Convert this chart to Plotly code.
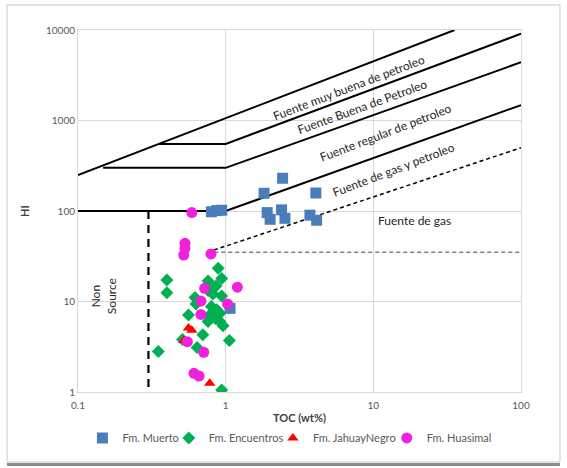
import numpy as np
import plotly.graph_objects as go

# ---- data ----
muerto_toc = [0.80, 0.87, 0.94, 1.82, 2.43, 4.08, 1.91, 2.00, 2.39, 2.52, 3.72, 4.13, 1.07]
muerto_hi = [98, 101, 102, 157, 230, 158, 96, 81, 103, 83, 90, 79, 8.4]

encuentros_toc = [0.89, 0.40, 0.76, 0.94, 0.86, 0.40, 0.76, 0.82, 0.94, 0.62, 0.63, 0.80, 0.87,
                  0.915, 0.78, 0.85, 0.915, 0.96, 0.56, 0.76, 0.70, 1.06, 0.51, 0.64, 0.35, 0.94]
encuentros_hi = [23.3, 17.3, 16.8, 18.0, 14.8, 12.5, 13.2, 12.1, 11.5, 11.1, 9.4, 8.8, 8.1,
                 7.4, 7.1, 6.5, 6.0, 5.4, 7.1, 6.0, 4.3, 3.7, 3.8, 3.1, 2.8, 1.05]

jahuay_toc = [0.56, 0.59, 0.52, 0.78]
jahuay_hi = [5.1, 4.8, 3.7, 1.25]

huasimal_toc = [0.59, 0.53, 0.53, 0.52, 0.795, 0.72, 1.2, 0.68, 1.03, 0.68, 0.55, 0.71, 0.61, 0.66]
huasimal_hi = [96, 44, 38.7, 32.6, 33.5, 14, 14.4, 10.1, 9.4, 7.2, 3.6, 2.75, 1.61, 1.5]

# boundary lines of the source-rock classification
top_x, top_y = [0.1, 35.5], [250, 10000]
vgood_x, vgood_y = [0.35, 1, 100], [550, 550, 9100]
good_x, good_y = [0.148, 1, 100], [300, 300, 4400]
fair_x, fair_y = [0.1, 1, 100], [100, 100, 1480]
gasoil_x, gasoil_y = [0.75, 100], [35, 500]
gas_x, gas_y = [0.75, 100], [35, 35]
nonsrc_x, nonsrc_y = [0.3, 0.3], [100, 1]

labels = ["Fuente muy buena de petroleo", "Fuente Buena de Petroleo",
          "Fuente regular de petroleo", "Fuente de gas y petroleo"]
label_toc = [6.84, 8.5, 12.2, 13.8]
label_hi = [2345, 1420, 728, 284]
label_angle = [-21, -20, -21, -21]

series_names = ["Fm. Muerto", "Fm. Encuentros", "Fm. JahuayNegro", "Fm. Huasimal"]

FONT = "Lato, 'Open Sans', sans-serif"

fig = go.Figure()

def line(x, y, color="black", width=2, dash="solid"):
    fig.add_trace(go.Scatter(x=x, y=y, mode="lines", showlegend=False, hoverinfo="skip",
                             line=dict(color=color, width=width, dash=dash)))

line(top_x, top_y)
line(vgood_x, vgood_y)
line(good_x, good_y)
line(fair_x, fair_y)
line(gasoil_x, gasoil_y, width=1.5, dash="4px,3px")
line(gas_x, gas_y, color="#7f7f7f", width=1.5, dash="4px,3px")
line(nonsrc_x, nonsrc_y, width=2.2, dash="8px,6px")

fig.add_trace(go.Scatter(x=muerto_toc, y=muerto_hi, mode="markers", name=series_names[0],
                         legend="legend",
                         marker=dict(symbol="square", size=11, color="#4a7ebb")))
fig.add_trace(go.Scatter(x=encuentros_toc, y=encuentros_hi, mode="markers", name=series_names[1],
                         legend="legend2",
                         marker=dict(symbol="diamond", size=10, color="#00b050")))
fig.add_trace(go.Scatter(x=jahuay_toc, y=jahuay_hi, mode="markers", name=series_names[2],
                         legend="legend3",
                         marker=dict(symbol="triangle-up", size=10, color="#ff0000")))
fig.add_trace(go.Scatter(x=huasimal_toc, y=huasimal_hi, mode="markers", name=series_names[3],
                         legend="legend4",
                         marker=dict(symbol="circle", size=11, color="#f020dc")))

annotations = []
for t, xv, yv, ang in zip(labels, label_toc, label_hi, label_angle):
    annotations.append(dict(x=np.log10(xv), y=np.log10(yv), xref="x", yref="y", text=t,
                            showarrow=False, textangle=ang,
                            font=dict(family=FONT, size=12, color="#262626")))
annotations.append(dict(x=np.log10(19.0), y=np.log10(77.6), xref="x", yref="y", text="Fuente de gas",
                        showarrow=False, font=dict(family=FONT, size=12, color="#262626")))
annotations.append(dict(x=np.log10(0.148), y=np.log10(11.5), xref="x", yref="y", text="Non<br>Source",
                        showarrow=False, textangle=-90,
                        font=dict(family=FONT, size=12, color="#262626")))

shapes = [
    dict(type="rect", xref="paper", yref="paper", x0=-0.1603, x1=1.088, y0=-0.1934, y1=1.069,
         line=dict(color="#c8c8c8", width=1), layer="below"),
    dict(type="line", xref="paper", yref="paper", x0=-0.1603, x1=1.088, y0=-0.2, y1=-0.2,
         line=dict(color="#8c8c8c", width=3), layer="below"),
]

def leg(xp):
    return dict(orientation="h", x=xp, xanchor="left", y=-0.127, yanchor="middle",
                font=dict(family=FONT, size=11, color="#595959"),
                itemwidth=30, bgcolor="rgba(0,0,0,0)")

fig.update_layout(
    width=567, height=468,
    margin=dict(l=78, r=46, t=30, b=76, autoexpand=False),
    paper_bgcolor="white", plot_bgcolor="white",
    font=dict(family=FONT, size=10, color="#595959"),
    showlegend=True,
    legend=leg(0.010), legend2=leg(0.205), legend3=leg(0.440), legend4=leg(0.697),
    annotations=annotations,
    shapes=shapes,
)
fig.update_xaxes(type="log", range=[-1, 2], tickvals=[0.1, 1, 10, 100],
                 ticktext=["0.1", "1", "10", "100"], ticklabelstandoff=4,
                 showgrid=True, gridcolor="#d9d9d9", gridwidth=1,
                 showline=True, linecolor="#d9d9d9", mirror=True, zeroline=False, ticks="",
                 title=dict(text="<b>TOC (wt%)</b>", font=dict(family=FONT, size=11, color="#404040"),
                            standoff=4))
fig.update_yaxes(type="log", range=[0, 4], tickvals=[1, 10, 100, 1000, 10000],
                 ticktext=["1", "10", "100", "1000", "10000"],
                 showgrid=True, gridcolor="#d9d9d9", gridwidth=1,
                 showline=True, linecolor="#d9d9d9", mirror=True, zeroline=False, ticks="",
                 title=dict(text="<b>HI</b>", font=dict(family=FONT, size=11, color="#404040"),
                            standoff=14))

fig.write_html("out.html", config={"displayModeBar": False},
               post_script="document.body.style.margin='0';document.body.style.padding='0';")
